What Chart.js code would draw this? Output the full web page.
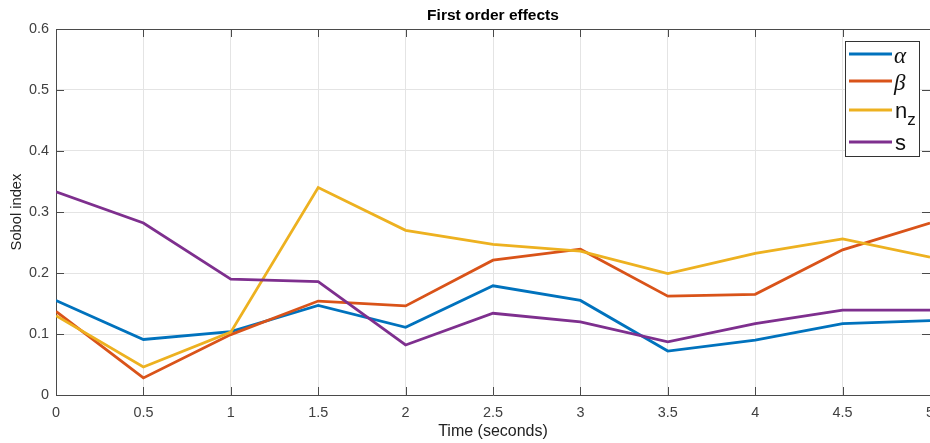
<!DOCTYPE html>
<html>
<head>
<meta charset="utf-8">
<title>First order effects</title>
<script src="https://cdn.jsdelivr.net/npm/chart.js@4"></script>
<style>
  body { margin: 0; background: #fff; }
  #myChart { display: block; }
</style>
</head>
<body>
<canvas id="myChart" width="930" height="443"></canvas>
<script>

// time steps (seconds)
const tiempos = [0, 0.5, 1, 1.5, 2, 2.5, 3, 3.5, 4, 4.5, 5]

// first order Sobol index per parameter
const alpha = [0.155, 0.091, 0.104, 0.147, 0.111, 0.179, 0.155, 0.072, 0.090, 0.117, 0.122]
const beta = [0.137, 0.028, 0.099, 0.154, 0.146, 0.221, 0.239, 0.162, 0.165, 0.238, 0.282]
const nz = [0.130, 0.046, 0.103, 0.340, 0.270, 0.247, 0.236, 0.199, 0.232, 0.256, 0.226]
const s = [0.333, 0.282, 0.190, 0.186, 0.082, 0.134, 0.120, 0.087, 0.117, 0.139, 0.139]

const nombres = ['α', 'β', 'n_z', 's']
const series = [alpha, beta, nz, s]
const colores = ['#0072BD', '#D95319', '#EDB120', '#7E2F8E']

const xTicks = [0, 0.5, 1, 1.5, 2, 2.5, 3, 3.5, 4, 4.5, 5]
const yTicks = [0, 0.1, 0.2, 0.3, 0.4, 0.5, 0.6]

const EJE = '#4a4a4a'
const FUENTE = "'Liberation Sans', Arial, sans-serif"

// matlab style box: inward ticks on all four sides + top border
const cajaEjes = {
    id: 'cajaEjes',
    afterDraw(chart) {
        const { ctx, chartArea: a } = chart
        const sx = chart.scales.x, sy = chart.scales.y
        const L = 8
        ctx.save()
        ctx.strokeStyle = EJE
        ctx.lineWidth = 1
        ctx.beginPath()
        ctx.moveTo(a.left, a.top + 0.5)
        ctx.lineTo(a.right, a.top + 0.5)
        xTicks.forEach(v => {
            const px = Math.round(sx.getPixelForValue(v)) + 0.5
            ctx.moveTo(px, a.bottom)
            ctx.lineTo(px, a.bottom - L)
            ctx.moveTo(px, a.top)
            ctx.lineTo(px, a.top + L)
        })
        yTicks.forEach(v => {
            const py = Math.round(sy.getPixelForValue(v)) + 0.5
            ctx.moveTo(a.left, py)
            ctx.lineTo(a.left + L, py)
            ctx.moveTo(a.right, py)
            ctx.lineTo(a.right - L, py)
        })
        ctx.stroke()

        // title over the plot area
        ctx.fillStyle = '#000'
        ctx.font = 'bold 15.5px ' + FUENTE
        ctx.textAlign = 'center'
        ctx.textBaseline = 'middle'
        ctx.fillText('First order effects', (a.left + a.right) / 2, 15.5)
        ctx.restore()
    }
}

// legend box with greek / subscript labels
const leyenda = {
    id: 'leyenda',
    afterDraw(chart) {
        const ctx = chart.ctx
        const caja = { x: 845.5, y: 41.5, w: 74, h: 115 }
        const filas = [54, 81, 110, 142]
        ctx.save()
        ctx.fillStyle = '#fff'
        ctx.fillRect(caja.x, caja.y, caja.w, caja.h)
        ctx.strokeStyle = '#333'
        ctx.lineWidth = 1
        ctx.strokeRect(caja.x, caja.y, caja.w, caja.h)

        chart.data.datasets.forEach((ds, i) => {
            const y = filas[i]
            ctx.strokeStyle = ds.borderColor
            ctx.lineWidth = 3
            ctx.beginPath()
            ctx.moveTo(849, y)
            ctx.lineTo(892, y)
            ctx.stroke()

            ctx.fillStyle = '#111'
            ctx.textAlign = 'left'
            ctx.textBaseline = 'alphabetic'
            const txt = ds.label
            if (/[α-ω]/.test(txt)) {
                ctx.font = "italic 23px 'Liberation Serif', 'DejaVu Serif', serif"
                ctx.fillText(txt, 894, y + 9)
            } else if (txt.includes('_')) {
                const [base, sub] = txt.split('_')
                ctx.font = '22px ' + FUENTE
                ctx.fillText(base, 895, y + 8)
                const w = ctx.measureText(base).width
                ctx.font = '17px ' + FUENTE
                ctx.fillText(sub, 895 + w, y + 15)
            } else {
                ctx.font = '22px ' + FUENTE
                ctx.fillText(txt, 895, y + 8)
            }
        })
        ctx.restore()
    }
}

const ctx = document.getElementById('myChart')

const myChart = new Chart(ctx, {
    type: 'line',
    data: {
        datasets: series.map((serie, i) => ({
            label: nombres[i],
            data: serie.map((v, j) => ({ x: tiempos[j], y: v })),
            borderColor: colores[i],
            backgroundColor: colores[i],
            borderWidth: 2.8,
            pointRadius: 0,
            tension: 0,
            order: series.length - i
        }))
    },
    options: {
        responsive: false,
        devicePixelRatio: 1,
        animation: false,
        layout: { padding: { top: 29, right: 0, left: 0, bottom: 0 } },
        plugins: {
            legend: { display: false },
            title: { display: false },
            tooltip: { enabled: false }
        },
        scales: {
            x: {
                type: 'linear',
                min: 0,
                max: 5,
                afterBuildTicks: (scale) => { scale.ticks = xTicks.map(v => ({ value: v })) },
                afterFit: (scale) => {
                    scale.height = 48
                    scale.paddingLeft = 0
                    scale.paddingRight = 0
                },
                ticks: {
                    autoSkip: false,
                    maxRotation: 0,
                    padding: 9,
                    color: '#404040',
                    font: { family: FUENTE, size: 14.4 },
                    callback: (v) => String(v)
                },
                grid: { color: '#e4e4e4', drawTicks: false },
                border: { color: EJE, width: 1 },
                title: {
                    display: true,
                    text: 'Time (seconds)',
                    color: '#222',
                    font: { family: FUENTE, size: 16 },
                    padding: { top: 0, bottom: 2 }
                }
            },
            y: {
                min: 0,
                max: 0.6,
                afterBuildTicks: (scale) => { scale.ticks = yTicks.map(v => ({ value: v })) },
                afterFit: (scale) => {
                    scale.width = 56
                    scale.paddingTop = 0
                    scale.paddingBottom = 0
                },
                ticks: {
                    padding: 7,
                    color: '#404040',
                    font: { family: FUENTE, size: 14.4 },
                    callback: (v) => String(v)
                },
                grid: { color: '#e4e4e4', drawTicks: false },
                border: { color: EJE, width: 1 },
                title: {
                    display: true,
                    text: 'Sobol index',
                    color: '#222',
                    font: { family: FUENTE, size: 14.7 },
                    padding: { top: 8, bottom: 0 }
                }
            }
        }
    },
    plugins: [cajaEjes, leyenda]
})

</script>
</body>
</html>
